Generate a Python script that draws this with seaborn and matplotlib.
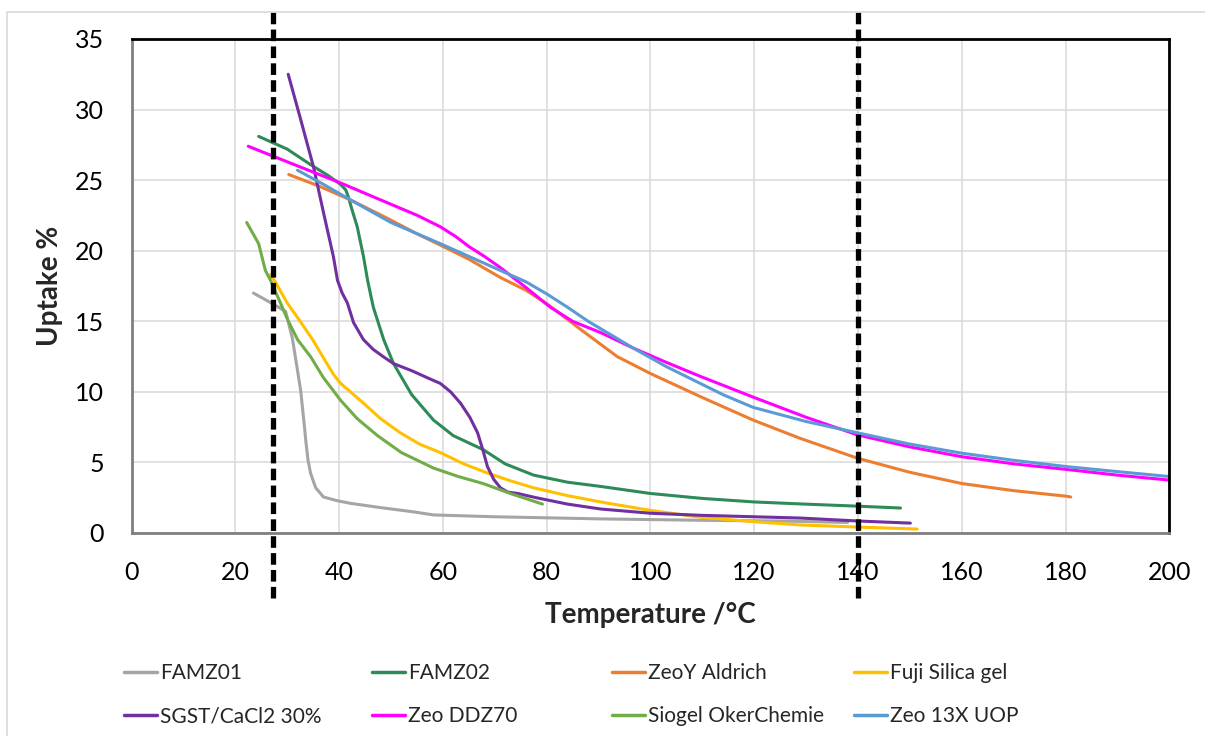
import numpy as np
import pandas as pd
import matplotlib
matplotlib.use("Agg")
import matplotlib.pyplot as plt
from matplotlib.patches import Rectangle
from matplotlib.lines import Line2D
import seaborn as sns

sns.set_theme(style="white")
plt.rcParams["font.family"] = ["Lato", "DejaVu Sans"]

# ---- data ----
famz01_t = [23.5, 27.4, 29.7, 31.0, 32.0, 32.6, 33.2, 33.6, 34.0, 34.5, 35.5, 37.0, 39.5, 42.2, 48.0, 54.3, 58.2, 70.0, 90.4, 110.0, 125.0, 138.0]
famz01_u = [17.0, 16.2, 15.7, 13.8, 11.5, 10.1, 8.0, 6.5, 5.2, 4.25, 3.2, 2.55, 2.3, 2.1, 1.8, 1.5, 1.28, 1.15, 1.0, 0.9, 0.85, 0.75]

famz02_t = [24.5, 30.0, 34.5, 38.0, 40.3, 41.3, 41.8, 42.5, 43.5, 44.7, 45.5, 46.6, 48.6, 50.5, 54.0, 58.2, 62.0, 67.8, 72.0, 77.5, 84.0, 90.4, 100.0, 110.0, 120.0, 128.9, 140.0, 148.2]
famz02_u = [28.1, 27.2, 26.1, 25.3, 24.7, 24.3, 23.8, 22.9, 21.7, 19.6, 17.9, 16.0, 13.7, 12.0, 9.8, 8.0, 6.9, 5.9, 4.9, 4.1, 3.6, 3.3, 2.8, 2.45, 2.2, 2.06, 1.9, 1.77]

zeoy_t = [30.3, 36.0, 42.2, 49.3, 55.0, 59.5, 65.0, 71.1, 76.0, 80.2, 87.0, 93.6, 100.0, 110.0, 119.8, 128.9, 139.9, 150.0, 160.1, 170.0, 180.3, 181.0]
zeoy_u = [25.4, 24.6, 23.6, 22.3, 21.2, 20.4, 19.4, 18.1, 17.2, 16.2, 14.3, 12.5, 11.3, 9.6, 8.0, 6.7, 5.3, 4.3, 3.5, 3.0, 2.6, 2.55]

fuji_t = [26.8, 27.7, 30.0, 32.5, 34.9, 37.5, 39.0, 40.3, 42.5, 44.7, 48.0, 51.8, 55.5, 59.5, 64.0, 68.6, 73.0, 77.5, 84.0, 90.4, 100.0, 110.0, 120.0, 128.9, 140.0, 151.4]
fuji_u = [18.3, 17.8, 16.3, 15.0, 13.7, 12.1, 11.2, 10.6, 9.9, 9.2, 8.1, 7.1, 6.3, 5.7, 4.9, 4.25, 3.7, 3.2, 2.65, 2.2, 1.6, 1.1, 0.8, 0.57, 0.42, 0.28]

sgst_t = [30.2, 32.6, 35.1, 37.0, 38.9, 39.7, 40.6, 41.6, 42.8, 44.7, 46.6, 48.5, 50.5, 54.0, 57.0, 59.5, 61.5, 63.4, 65.2, 66.7, 67.7, 68.6, 69.8, 71.1, 72.5, 74.4, 78.0, 84.0, 90.4, 100.0, 110.0, 120.0, 128.9, 140.0, 150.1]
sgst_u = [32.5, 29.3, 25.9, 22.7, 19.6, 17.9, 17.0, 16.3, 14.9, 13.7, 13.0, 12.5, 12.0, 11.5, 11.0, 10.6, 10.0, 9.2, 8.2, 7.1, 5.9, 4.7, 3.8, 3.2, 2.9, 2.8, 2.5, 2.05, 1.7, 1.4, 1.25, 1.15, 1.06, 0.85, 0.7]

ddz70_t = [22.5, 30.0, 40.3, 48.0, 55.1, 59.5, 62.5, 65.0, 68.0, 71.1, 76.0, 80.7, 85.0, 90.4, 96.7, 103.0, 109.6, 120.0, 130.0, 139.9, 150.0, 160.1, 170.0, 180.3, 190.0, 200.0]
ddz70_u = [27.4, 26.3, 24.8, 23.6, 22.5, 21.7, 21.0, 20.3, 19.6, 18.8, 17.4, 16.0, 15.0, 14.2, 13.1, 12.1, 11.1, 9.6, 8.2, 6.95, 6.1, 5.4, 4.9, 4.5, 4.1, 3.75]

siogel_t = [22.2, 24.5, 25.8, 26.8, 28.7, 30.1, 32.0, 34.5, 37.0, 40.3, 43.5, 47.4, 52.0, 58.2, 63.0, 67.8, 73.0, 79.2]
siogel_u = [22.0, 20.5, 18.6, 17.9, 16.3, 15.1, 13.7, 12.5, 11.0, 9.4, 8.1, 6.9, 5.7, 4.6, 4.0, 3.5, 2.8, 2.05]

x13_t = [32.0, 37.0, 42.2, 50.0, 59.5, 65.0, 71.1, 76.0, 80.2, 84.0, 88.0, 96.7, 103.0, 109.6, 114.0, 119.8, 130.0, 139.9, 150.0, 160.1, 170.0, 180.3, 190.0, 200.0]
x13_u = [25.7, 24.7, 23.6, 22.0, 20.5, 19.6, 18.6, 17.8, 16.9, 16.0, 15.0, 13.1, 11.8, 10.6, 9.8, 8.9, 7.9, 7.1, 6.3, 5.65, 5.15, 4.7, 4.35, 4.0]

series_names = ["FAMZ01", "FAMZ02", "ZeoY Aldrich", "Fuji Silica gel",
                "SGST/CaCl2 30%", "Zeo DDZ70", "Siogel OkerChemie", "Zeo 13X UOP"]
series_t = [famz01_t, famz02_t, zeoy_t, fuji_t, sgst_t, ddz70_t, siogel_t, x13_t]
series_u = [famz01_u, famz02_u, zeoy_u, fuji_u, sgst_u, ddz70_u, siogel_u, x13_u]
colors = ["#A5A5A5", "#2E8B57", "#ED7D31", "#FFC000",
          "#7030A0", "#FF00FF", "#70AD47", "#5B9BD5"]

x_ticks = [0, 20, 40, 60, 80, 100, 120, 140, 160, 180, 200]
y_ticks = [0, 5, 10, 15, 20, 25, 30, 35]
limit_temps = [27.2, 140.0]

frames = []
for name, t, u in zip(series_names, series_t, series_u):
    frames.append(pd.DataFrame({"Temperature": t, "Uptake": u, "Material": name}))
df = pd.concat(frames, ignore_index=True)

# ---- figure ----
W, H = 1205, 736
fig = plt.figure(figsize=(W / 100, H / 100), dpi=100)
ax = fig.add_axes([131.5 / W, 1 - 533 / H, (1169.3 - 131.5) / W, (533 - 39) / H])

# outer chart border
fig.patches.append(Rectangle((7 / W, -0.05), 1.2, 1 - 12 / H + 0.05, transform=fig.transFigure,
                             fill=False, edgecolor="#D9D9D9", linewidth=1.2, zorder=0))

sns.lineplot(data=df, x="Temperature", y="Uptake", hue="Material", hue_order=series_names,
             palette=colors, sort=False, estimator=None, linewidth=2.2, legend=False, ax=ax)
for ln in ax.get_lines():
    ln.set_solid_joinstyle("round")
    ln.set_solid_capstyle("round")

ax.set_xlim(0, 200)
ax.set_ylim(0, 35)
ax.set_xticks(x_ticks)
ax.set_yticks(y_ticks)
ax.set_xticklabels([str(v) for v in x_ticks])
ax.set_yticklabels([str(v) for v in y_ticks])
ax.grid(True, color="#D9D9D9", linewidth=1.1)
ax.set_axisbelow(True)
ax.tick_params(axis="both", length=0, labelsize=18, colors="black")
ax.tick_params(axis="x", pad=20)
ax.tick_params(axis="y", pad=20)

for s in ["top", "right"]:
    ax.spines[s].set_color("black")
    ax.spines[s].set_linewidth(2.0)
for s in ["left", "bottom"]:
    ax.spines[s].set_color("#7F7F7F")
    ax.spines[s].set_linewidth(2.0)

ax.set_xlabel("Temperature /°C", fontsize=20, fontweight="bold", labelpad=13)
ax.set_ylabel("Uptake %", fontsize=20, fontweight="bold", labelpad=8)

for xv in limit_temps:
    ax.axvline(xv, ymin=(533 - 598) / 494, ymax=(533 - 12) / 494, clip_on=False,
               color="black", linewidth=3.8, linestyle=(0, (2.2, 1.0)), zorder=5)

# legend: 4 columns at fixed positions, 2 rows
col_x = [124, 372, 612, 854]
for c in range(4):
    idx = [c, c + 4]
    handles = [Line2D([], [], color=colors[i], linewidth=2.5) for i in idx]
    labels = [series_names[i] for i in idx]
    fig.legend(handles, labels, loc="upper left", bbox_to_anchor=(col_x[c] / W, 1 - 663 / H),
               frameon=False, fontsize=15, handlelength=1.6, handletextpad=0.15,
               labelspacing=1.12, borderpad=0, borderaxespad=0)

fig.savefig("out.png", dpi=100)
